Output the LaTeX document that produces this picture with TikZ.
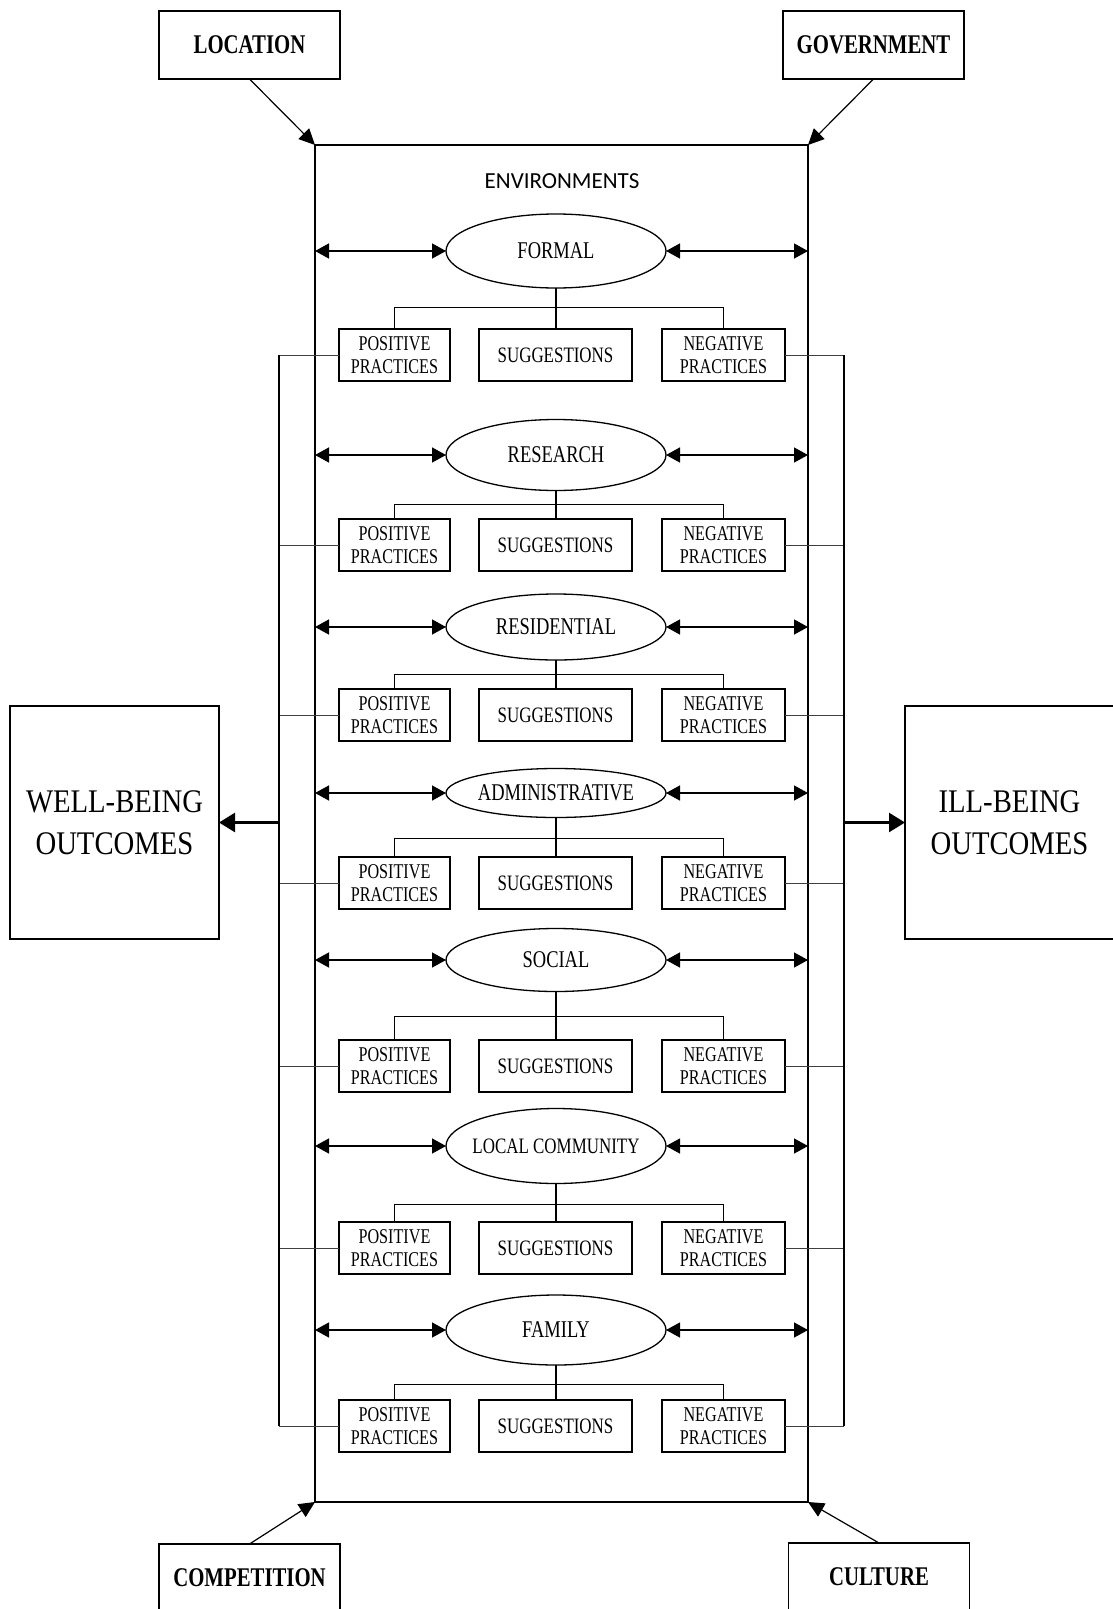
\documentclass[tikz,border=0pt]{standalone}
\usepackage{fontspec}
\setmainfont{Liberation Serif}
\newfontfamily\condserif[FakeStretch=0.77]{Liberation Serif}
\newfontfamily\wideserif[FakeStretch=0.87]{Liberation Serif}
\newfontfamily\labelsans{Carlito}
\usetikzlibrary{arrows.meta,shapes.geometric,calc}

\begin{document}
\begin{tikzpicture}[x=1pt,y=-1pt,
  envrect/.style={draw, line width=2pt, minimum width=493pt, minimum height=1357pt, inner sep=0pt, outer sep=0pt},
  factorbox/.style={draw, line width=1.1pt, minimum width=181pt, minimum height=68pt, inner sep=0pt, outer sep=0pt,
    font=\condserif\bfseries\fontsize{27}{30}\selectfont},
  outcomebox/.style={draw, line width=1.1pt, minimum width=209pt, minimum height=233pt, inner sep=0pt, outer sep=0pt,
    align=center, font=\wideserif\fontsize{33}{42}\selectfont},
  envell/.style={ellipse, draw, line width=1.3pt, minimum width=220pt, inner sep=0pt, outer sep=0pt},
  practicebox/.style={draw, line width=1.1pt, minimum height=52pt, inner sep=0pt, outer sep=0pt, align=center,
    font=\condserif\fontsize{21}{23}\selectfont},
  posbox/.style={practicebox, minimum width=111pt},
  negbox/.style={practicebox, minimum width=123pt},
  sugbox/.style={practicebox, minimum width=153pt, font=\condserif\fontsize{22}{24}\selectfont},
  twoway/.style={{Triangle[length=14pt,width=15pt]}-{Triangle[length=14pt,width=15pt]}, line width=1.4pt},
  stem/.style={line width=1.5pt},
  twig/.style={line width=1pt},
  feeder/.style={line width=0.9pt, black!75},
  bus/.style={line width=1.3pt},
  busheavy/.style={line width=2.2pt},
  outflow/.style={line width=2.5pt, -{Triangle[length=16pt,width=19pt]}},
  influence/.style={line width=1.2pt, -{Triangle[length=16pt,width=15pt]}}
]
\useasboundingbox (0,0) rectangle (1112,1609);

% central frame holding the environments
\node[envrect] (env) at (561.5,823.5) {};
\node[font=\labelsans\fontsize{23}{26}\selectfont] (envtitle) at (562,181) {ENVIRONMENTS};

% external factors
\node[factorbox] (loc) at (249.5,45) {LOCATION};
\node[factorbox] (gov) at (873.5,45) {GOVERNMENT};
\node[factorbox] (comp) at (249.5,1578) {COMPETITION};
\node[factorbox] (cult) at (879,1577) {CULTURE};

\draw[influence] (loc.south) -- (env.north west);
\draw[influence] (gov.south) -- (env.north east);
\draw[influence] (comp.north) -- (env.south west);
\draw[influence] (cult.north) -- (env.south east);

% outcomes
\node[outcomebox] (wb) at (114.5,822.5) {WELL-BEING\\OUTCOMES};
\node[outcomebox] (ib) at (1009.5,822.5) {ILL-BEING\\OUTCOMES};

\coordinate (wbus) at (279,0);
\coordinate (ibus) at (844,0);

% one block per environment
\foreach \i/\lab/\fs/\ey/\eh/\by/\cy in {
  1/FORMAL/24/251/74/307/355,
  2/RESEARCH/24/455/71/504/545,
  3/RESIDENTIAL/24/627/66/674/715,
  4/ADMINISTRATIVE/24/793/49/838/883,
  5/SOCIAL/24/960/63/1016/1066,
  6/LOCAL COMMUNITY/22/1146/75/1204/1248,
  7/FAMILY/24/1330/70/1384/1426}{
  \node[envell, minimum height=\eh] (e\i) at (556,\ey)
    {\makebox[0pt]{\fontsize{\fs}{\fs}\selectfont\condserif \lab}};
  \node[posbox] (p\i) at (394.5,\cy) {POSITIVE\\PRACTICES};
  \node[sugbox] (s\i) at (555.5,\cy) {SUGGESTIONS};
  \node[negbox] (n\i) at (723.5,\cy) {NEGATIVE\\PRACTICES};
  \coordinate (b\i) at (556,\by);
  \draw[stem] (e\i.south) -- (e\i.south |- s\i.north);
  \draw[twig] (p\i.north) -- (p\i.north |- b\i) -- (n\i.north |- b\i) -- (n\i.north);
  \draw[twoway] (e\i.west -| env.west) -- (e\i.west);
  \draw[twoway] (e\i.east) -- (e\i.east -| env.east);
  \draw[feeder] (p\i.west) -- (p\i.west -| wbus);
  \draw[feeder] (n\i.east) -- (n\i.east -| ibus);
}

% collecting lines towards the outcomes
\draw[bus] (p1.west -| wbus) -- (p7.west -| wbus);
\draw[bus] (n1.east -| ibus) -- (n7.east -| ibus);
\draw[busheavy] (p3.west -| wbus) -- (p5.west -| wbus);
\draw[busheavy] (n3.east -| ibus) -- (n5.east -| ibus);
\draw[outflow] (wb.east -| wbus) -- (wb.east);
\draw[outflow] (ib.west -| ibus) -- (ib.west);
\end{tikzpicture}
\end{document}
